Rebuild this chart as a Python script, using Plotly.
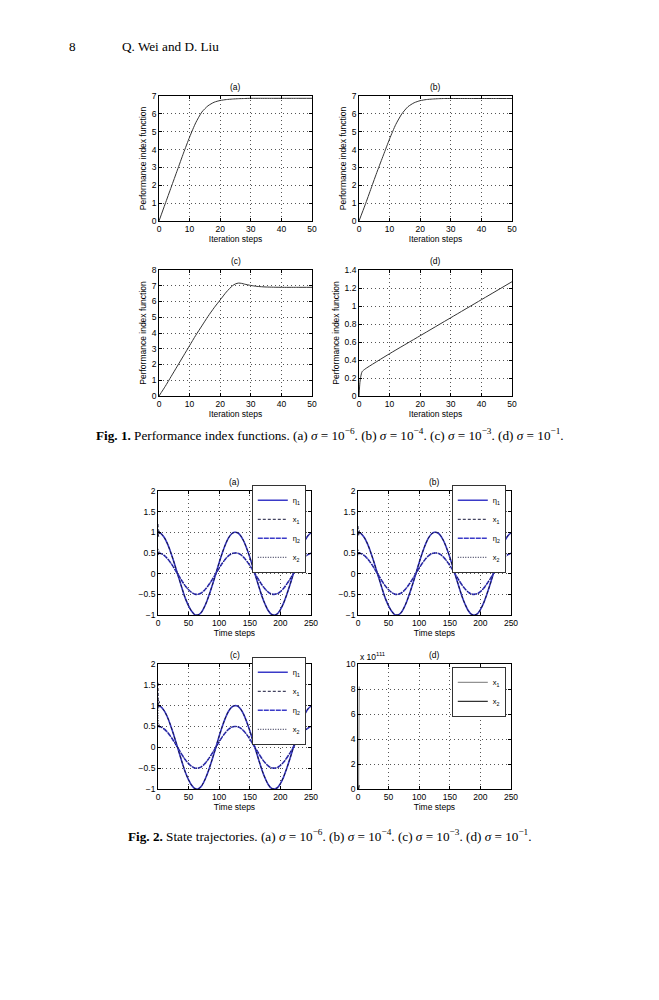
import plotly.graph_objects as go

# page size and the default body margin of the html page
PAGE_W, PAGE_H = 659, 1000
OFF = 8
W, H = PAGE_W - OFF, PAGE_H - OFF

# Fig. 1 data: performance index function vs. iteration steps
iter_a = [0, 2, 4, 6, 8, 10, 12, 14, 16, 18, 20, 22, 24, 26, 28, 30, 35, 40, 45, 50]
perf_a = [0, 0.95, 1.9, 2.85, 3.8, 4.7, 5.5, 6.1, 6.45, 6.65, 6.75, 6.8, 6.83, 6.85, 6.86,
          6.87, 6.87, 6.87, 6.87, 6.87]
iter_b = [0, 2, 4, 6, 8, 10, 12, 14, 16, 18, 20, 22, 24, 26, 28, 30, 35, 40, 45, 50]
perf_b = [0, 0.9, 1.85, 2.8, 3.7, 4.6, 5.4, 6.0, 6.4, 6.62, 6.74, 6.8, 6.83, 6.85, 6.86,
          6.86, 6.86, 6.86, 6.86, 6.86]
iter_c = [0, 2, 4, 6, 8, 10, 12, 14, 16, 18, 20, 22, 24, 25, 26, 27, 28, 30, 32, 35, 40, 45, 50]
perf_c = [0, 0.6, 1.25, 1.9, 2.55, 3.2, 3.85, 4.45, 5.05, 5.6, 6.1, 6.6, 7.0, 7.12, 7.17,
          7.15, 7.1, 7.02, 6.96, 6.92, 6.9, 6.9, 6.9]
iter_d = [0, 0.3, 0.6, 1, 2, 10, 20, 30, 40, 50]
perf_d = [0, 0.15, 0.22, 0.27, 0.3, 0.47, 0.67, 0.87, 1.07, 1.27]

# Fig. 2 data: state trajectories vs. time steps
time_steps = [0, 1, 2, 3, 4] + list(range(5, 251, 5))
eta1 = [1.0, 1.0, 0.99, 0.99, 0.98,
        0.97, 0.88, 0.74, 0.55, 0.33, 0.09, -0.15, -0.39, -0.61, -0.78,
        -0.91, -0.99, -1.0, -0.95, -0.83, -0.66, -0.45, -0.22, 0.02, 0.27,
        0.50, 0.70, 0.86, 0.96, 1.0, 0.99, 0.92, 0.79, 0.61, 0.40,
        0.16, -0.08, -0.32, -0.55, -0.74, -0.89, -0.98, -1.0, -0.97, -0.87,
        -0.72, -0.52, -0.30, -0.06, 0.19, 0.42, 0.63, 0.80, 0.92, 0.99]
eta2 = [0.5, 0.5, 0.5, 0.49, 0.49,
        0.485, 0.44, 0.37, 0.275, 0.165, 0.045, -0.075, -0.195, -0.305, -0.39,
        -0.455, -0.495, -0.5, -0.475, -0.415, -0.33, -0.225, -0.11, 0.01, 0.135,
        0.25, 0.35, 0.43, 0.48, 0.5, 0.495, 0.46, 0.395, 0.305, 0.2,
        0.08, -0.04, -0.16, -0.275, -0.37, -0.445, -0.49, -0.5, -0.485, -0.435,
        -0.36, -0.26, -0.15, -0.03, 0.095, 0.21, 0.315, 0.4, 0.46, 0.495]
# x tracks eta after the first few steps
x1_a = [1.2, 0.9, 1.05, 0.97, 1.0] + eta1[5:]
x2_a = [0.6, 0.45, 0.55, 0.5, 0.49] + eta2[5:]
x1_b = [1.15, 0.92, 1.05, 0.97, 0.99] + eta1[5:]
x2_b = [0.58, 0.45, 0.54, 0.5, 0.49] + eta2[5:]
x1_c = [1.55, 0.95, 1.1, 1.0, 0.98] + eta1[5:]
x2_c = [1.2, 0.5, 0.55, 0.5, 0.49] + eta2[5:]

# Fig. 2(d): diverging states (units of 1e111)
time_d = [0, 1, 2]
x1_d = [0, 0, 8.2]
x2_d = [0, 0, 0.3]

AX_FONT = dict(family="Liberation Sans", size=8.5, color="black")
axis_style = dict(showline=True, linecolor="black", linewidth=0.8, mirror="ticks",
                  ticks="inside", ticklen=3, tickcolor="black", showgrid=True,
                  gridcolor="#555555", griddash="1px,3px", gridwidth=0.8, zeroline=False,
                  tickfont=AX_FONT, title_font=AX_FONT, automargin=False)
LEG_FONT = dict(family="Liberation Sans", size=7.5, color="black")


def px(x):
    return (x - OFF) / W


def py(y):
    return 1 - (y - OFF) / H


fig = go.Figure()
layout = dict(width=W, height=H, margin=dict(l=0, r=0, t=0, b=0, autoexpand=False),
              plot_bgcolor="white", paper_bgcolor="white", showlegend=True,
              font=dict(family="Liberation Sans", color="black"))
annotations = []


def add_panel(n, box, label, xr, xdt, yr, ydt, xtitle, ytitle):
    left, right, top, bottom = box
    xa = dict(axis_style, domain=[px(left), px(right)], range=xr, dtick=xdt,
              anchor="y%d" % n, title=dict(text=xtitle, standoff=1))
    ya = dict(axis_style, domain=[py(bottom), py(top)], range=yr, dtick=ydt,
              anchor="x%d" % n, title=dict(text=ytitle, standoff=3))
    layout["xaxis" if n == 1 else "xaxis%d" % n] = xa
    layout["yaxis" if n == 1 else "yaxis%d" % n] = ya
    annotations.append(dict(text=label, xref=("x" if n == 1 else "x%d" % n) + " domain",
                            yref=("y" if n == 1 else "y%d" % n) + " domain",
                            x=0.5, y=1, yanchor="bottom", yshift=2, showarrow=False,
                            font=AX_FONT))


perf_title = "Performance index function"
add_panel(1, (159, 312, 96, 221), "(a)", [0, 50], 10, [0, 7], 1, "Iteration steps", perf_title)
add_panel(2, (359, 512, 96, 221), "(b)", [0, 50], 10, [0, 7], 1, "Iteration steps", perf_title)
add_panel(3, (159, 312, 270, 396), "(c)", [0, 50], 10, [0, 8], 1, "Iteration steps", perf_title)
add_panel(4, (359, 512, 270, 396), "(d)", [0, 50], 10, [0, 1.4], 0.2, "Iteration steps", perf_title)
add_panel(5, (158, 311, 491, 615), "(a)", [0, 250], 50, [-1, 2], 0.5, "Time steps", None)
add_panel(6, (358, 511, 491, 615), "(b)", [0, 250], 50, [-1, 2], 0.5, "Time steps", None)
add_panel(7, (158, 311, 664, 789), "(c)", [0, 250], 50, [-1, 2], 0.5, "Time steps", None)
add_panel(8, (358, 511, 664, 789), "(d)", [0, 250], 50, [0, 10], 2, "Time steps", None)

perf_sets = [(iter_a, perf_a), (iter_b, perf_b), (iter_c, perf_c), (iter_d, perf_d)]
for i, (xs, ys) in enumerate(perf_sets):
    n = i + 1
    fig.add_trace(go.Scatter(x=xs, y=ys, mode="lines", showlegend=False,
                             line=dict(color="#333333", width=1, shape="spline", smoothing=0.6),
                             xaxis="x" if n == 1 else "x%d" % n,
                             yaxis="y" if n == 1 else "y%d" % n))

state_sets = [(x1_a, x2_a), (x1_b, x2_b), (x1_c, x2_c)]
legend_boxes = [(306, 485), (506, 485), (306, 657)]
for i, (x1s, x2s) in enumerate(state_sets):
    n = i + 5
    lg = "legend" if i == 0 else "legend%d" % (i + 1)
    ax = dict(xaxis="x%d" % n, yaxis="y%d" % n, legend=lg)
    fig.add_trace(go.Scatter(x=time_steps, y=eta1, mode="lines", name="η<sub>1</sub>",
                             line=dict(color="#3a3ac8", width=1.6, shape="spline"), **ax))
    fig.add_trace(go.Scatter(x=time_steps, y=x1s, mode="lines", name="x<sub>1</sub>",
                             line=dict(color="#15153a", width=1, dash="3px,2px", shape="spline"), **ax))
    fig.add_trace(go.Scatter(x=time_steps, y=eta2, mode="lines", name="η<sub>2</sub>",
                             line=dict(color="#3a3ac8", width=1.6, dash="5px,1px", shape="spline"), **ax))
    fig.add_trace(go.Scatter(x=time_steps, y=x2s, mode="lines", name="x<sub>2</sub>",
                             line=dict(color="#15153a", width=1, dash="1px,1.5px", shape="spline"), **ax))
    rx, ty = legend_boxes[i]
    layout[lg] = dict(x=px(rx), y=py(ty), xanchor="right", yanchor="top",
                      bordercolor="black", borderwidth=0.8, bgcolor="white",
                      font=LEG_FONT, tracegroupgap=0, itemwidth=30)

fig.add_trace(go.Scatter(x=time_d, y=x1_d, mode="lines", name="x<sub>1</sub>",
                         line=dict(color="#777777", width=1), xaxis="x8", yaxis="y8",
                         legend="legend4"))
fig.add_trace(go.Scatter(x=time_d, y=x2_d, mode="lines", name="x<sub>2</sub>",
                         line=dict(color="black", width=1), xaxis="x8", yaxis="y8",
                         legend="legend4"))
layout["legend4"] = dict(x=px(506), y=py(667), xanchor="right", yanchor="top",
                         bordercolor="black", borderwidth=0.8, bgcolor="white",
                         font=LEG_FONT, tracegroupgap=0, itemwidth=30)

annotations.append(dict(text="x 10<sup>111</sup>", xref="x8 domain", yref="y8 domain",
                        x=0, y=1, xanchor="left", yanchor="bottom", yshift=0, showarrow=False,
                        font=AX_FONT))

SERIF = dict(family="Liberation Serif", size=13.2, color="black")
text_pos = dict(xref="paper", yref="paper", showarrow=False, font=SERIF, yanchor="middle")
annotations.append(dict(text_pos, text="8", x=px(72), y=py(47), xanchor="center"))
annotations.append(dict(text_pos, text="Q. Wei and D. Liu", x=px(120), y=py(47), xanchor="left"))
cap1 = ("<b>Fig. 1.</b> Performance index functions. (a) <i>σ</i> = 10<sup>−6</sup>. "
        "(b) <i>σ</i> = 10<sup>−4</sup>. (c) <i>σ</i> = 10<sup>−3</sup>. (d) <i>σ</i> = 10<sup>−1</sup>.")
cap2 = ("<b>Fig. 2.</b> State trajectories. (a) <i>σ</i> = 10<sup>−6</sup>. "
        "(b) <i>σ</i> = 10<sup>−4</sup>. (c) <i>σ</i> = 10<sup>−3</sup>. (d) <i>σ</i> = 10<sup>−1</sup>.")
annotations.append(dict(text_pos, text=cap1, x=px(330), y=py(434), xanchor="center"))
annotations.append(dict(text_pos, text=cap2, x=px(330), y=py(835), xanchor="center"))

layout["annotations"] = annotations
fig.update_layout(**layout)
fig.write_html("out.html")
